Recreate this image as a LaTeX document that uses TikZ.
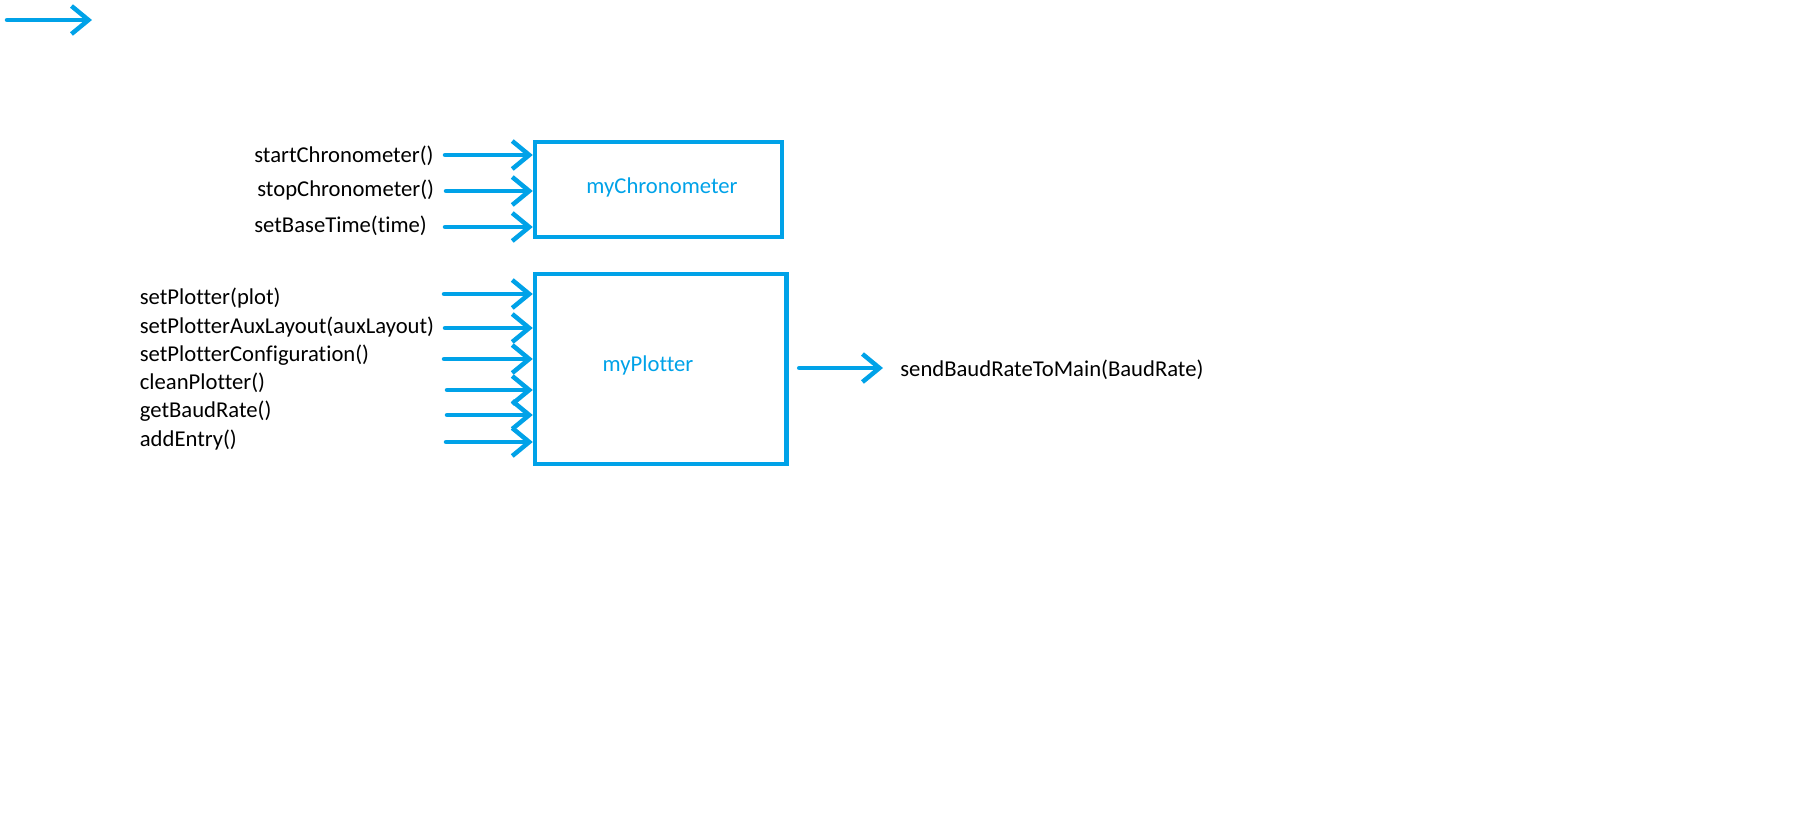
\documentclass[tikz,border=0pt]{standalone}
\usepackage{fontspec}
\setmainfont[Ligatures=NoCommon]{Carlito}
\usetikzlibrary{arrows.meta}

\definecolor{paintblue}{RGB}{0,162,232}

\begin{document}
\begin{tikzpicture}[x=0.02cm,y=-0.02cm,
    box/.style={draw=paintblue,line width=0.09cm,inner sep=0pt},
    call/.style={anchor=west,inner sep=0pt,font=\fontsize{12.9}{15}\selectfont},
    blockname/.style={inner sep=0pt,text=paintblue,font=\fontsize{12.9}{15}\selectfont},
    flow/.style={draw=paintblue,line width=0.09cm,line cap=round,
        -{Straight Barb[length=0.34cm,width=0.56cm]}}
    ]

\useasboundingbox (0,0) rectangle (1800,819);

% Lone arrow (top left)
\coordinate (s0) at (7,20);
\coordinate (s1) at (92,20);
\draw[flow] (s0)--(s1);

% Chronometer block
\node[box,minimum width=4.94cm,minimum height=1.9cm] (chrono) at (658.5,189.5) {};
\node[blockname] (chronoName) at (662,187) {myChronometer};

\node[call] (start) at (254,156) {startChronometer()};
\node[call] (stop) at (257,190) {stopChronometer()};
\node[call] (base) at (254,226) {setBaseTime(time)};

\coordinate (c1) at (445,155);
\coordinate (c2) at (446,191);
\coordinate (c3) at (445,227);
\draw[flow] (c1)--(c1 -| chrono.west);
\draw[flow] (c2)--(c2 -| chrono.west);
\draw[flow] (c3)--(c3 -| chrono.west);

% Plotter block
\node[box,minimum width=5.03cm,minimum height=3.8cm] (plotter) at (660.75,369) {};
\node[blockname] (plotterName) at (648,365) {myPlotter};

\node[call] (setPlot) at (139.5,298) {setPlotter(plot)};
\node[call] (setAux) at (139.5,327) {setPlotterAuxLayout(auxLayout)};
\node[call] (setConf) at (139.5,355) {setPlotterConfiguration()};
\node[call] (clean) at (139.5,383) {cleanPlotter()};
\node[call] (getBaud) at (139.5,411) {getBaudRate()};
\node[call] (addEntry) at (139.5,440) {addEntry()};

\coordinate (p1) at (444,294);
\coordinate (p2) at (445,328);
\coordinate (p3) at (444,359);
\coordinate (p4) at (447,390);
\coordinate (p5) at (447,415);
\coordinate (p6) at (446,442);
\draw[flow] (p1)--(p1 -| plotter.west);
\draw[flow] (p2)--(p2 -| plotter.west);
\draw[flow] (p3)--(p3 -| plotter.west);
\draw[flow] (p4)--(p4 -| plotter.west);
\draw[flow] (p5)--(p5 -| plotter.west);
\draw[flow] (p6)--(p6 -| plotter.west);

% Output of the plotter
\node[call] (sendBaud) at (900,370) {sendBaudRateToMain(BaudRate)};
\coordinate (out) at (883,368);
\draw[flow,shorten <=0.21cm] (plotter.east |- out)--(out);

\end{tikzpicture}
\end{document}
